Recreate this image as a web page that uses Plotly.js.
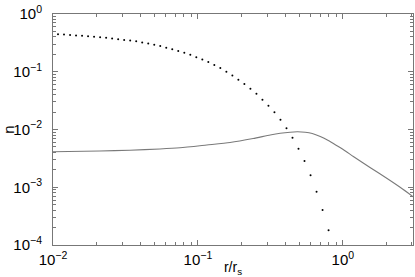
<!DOCTYPE html>
<html>
<head>
<meta charset="utf-8">
<script src="https://cdn.plot.ly/plotly-3.0.1.min.js"></script>
<style>html,body{margin:0;padding:0;background:#fff}#plot{width:415px;height:277px}</style>
</head>
<body>
<div id="plot"></div>
<script>
// Dotted series
const dotsR = [0.01083,0.01191,0.01311,0.01442,0.01587,0.01746,0.01921,0.02114,0.02326,0.02559,
  0.02816,0.03098,0.03409,0.03751,0.04127,0.04541,0.04996,0.05496,0.06047,0.06653,
  0.07320,0.08054,0.08861,0.09748,0.1073,0.1180,0.1298,0.1428,0.1572,0.1729,
  0.1902,0.2093,0.2303,0.2534,0.2788,0.3068,0.3375,0.3713,0.4086,0.4495,
  0.4945,0.5441,0.5987,0.6587,0.7247,0.7974];
const dotsN = [0.445,0.440,0.433,0.426,0.419,0.411,0.403,0.395,0.386,0.376,
  0.366,0.356,0.347,0.336,0.322,0.308,0.294,0.279,0.261,0.245,
  0.229,0.214,0.197,0.179,0.163,0.147,0.131,0.116,0.1002,0.0865,
  0.0728,0.0614,0.0507,0.0415,0.0327,0.0258,0.0199,0.01472,0.01049,0.00721,
  0.00465,0.00285,0.00161,0.000837,0.000404,0.000180];
// Solid series
const lineR = [0.01,0.02104,0.0339,0.0547,0.0752,0.1151,0.1667,0.2405,0.3151,0.3696,
  0.4334,0.4844,0.5503,0.6152,0.6990,0.7938,0.9117,1.041,1.182,1.550,2.022,2.499,3.059];
const lineN = [0.004126,0.004243,0.004381,0.004597,0.004821,0.005390,0.005954,0.006985,0.008035,0.008597,
  0.008979,0.009124,0.008979,0.008527,0.007563,0.006450,0.005221,0.004243,0.003408,0.002181,0.001417,0.000990,0.000686];
// Tick labels
const xTickVals = [0.01, 0.1, 1];
const xTickText = ['10<sup>−2</sup>', '10<sup>−1</sup>', '10<sup>0</sup>'];
const yTickVals = [0.0001, 0.001, 0.01, 0.1, 1];
const yTickText = ['10<sup>−4</sup>', '10<sup>−3</sup>', '10<sup>−2</sup>', '10<sup>−1</sup>', '10<sup>0</sup>'];

const FONT = 'Liberation Sans';

const axisCommon = {
  type: 'log', showgrid: false, zeroline: false,
  showline: true, linecolor: '#777', linewidth: 1, mirror: 'ticks',
  ticks: 'inside', ticklen: 5, tickcolor: '#777', tickwidth: 1,
  tickmode: 'array',
  tickfont: {family: FONT, size: 15, color: '#000'},
  minor: {ticks: 'inside', ticklen: 3, tickcolor: '#777', tickwidth: 1, dtick: 'D1', showgrid: false}
};

const data = [
  {x: dotsR, y: dotsN, mode: 'markers', type: 'scatter',
   marker: {color: '#000', size: 2}, hoverinfo: 'skip'},
  {x: lineR, y: lineN, mode: 'lines', type: 'scatter',
   line: {color: '#7a7a7a', width: 1.1, shape: 'spline', smoothing: 0.6}, hoverinfo: 'skip'}
];

const layout = {
  width: 415, height: 277,
  margin: {l: 53, r: 2, t: 14, b: 32, pad: 0},
  paper_bgcolor: '#fff', plot_bgcolor: '#fff',
  showlegend: false,
  font: {family: FONT, color: '#000'},
  xaxis: Object.assign({}, axisCommon, {
    range: [-2, Math.log10(3.05)],
    tickvals: xTickVals, ticktext: xTickText, ticklabelstandoff: 1,
    title: {text: 'r/r<sub>s</sub>', font: {family: FONT, size: 14, color: '#000'}, standoff: 0}
  }),
  yaxis: Object.assign({}, axisCommon, {
    range: [-4, 0],
    tickvals: yTickVals, ticktext: yTickText, ticklabelstandoff: 7,
    title: {text: 'n', font: {family: FONT, size: 15, color: '#000'}, standoff: 0}
  })
};

Plotly.newPlot('plot', data, layout, {displayModeBar: false, staticPlot: true});
</script>
</body>
</html>
